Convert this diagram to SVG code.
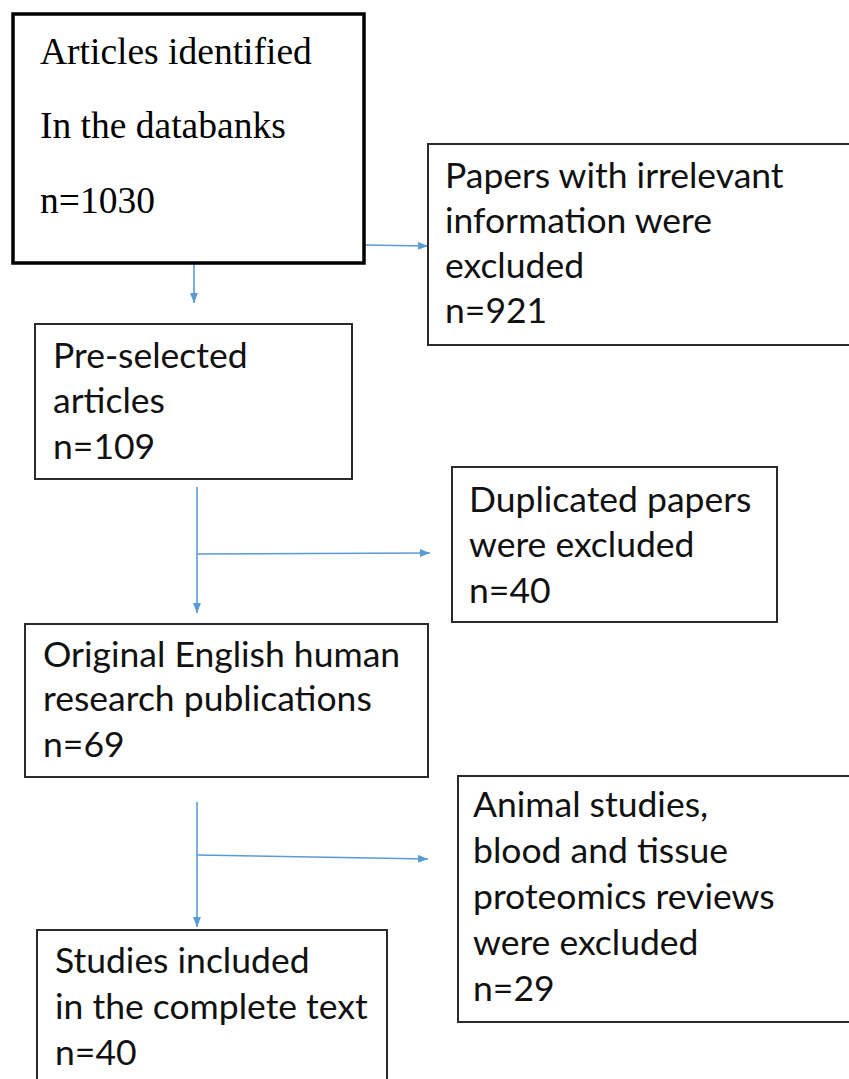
<svg xmlns="http://www.w3.org/2000/svg" width="849" height="1079" viewBox="0 0 849 1079">
<defs>
<marker id="ah" markerWidth="10" markerHeight="8" refX="10" refY="4" orient="auto" markerUnits="userSpaceOnUse">
<path d="M0,0 L10,4 L0,8 Z" fill="#5B9BD5"/>
</marker>
<style>
.box{fill:#fff;stroke:#2b2b2b;stroke-width:2}
.box1{fill:#fff;stroke:#000;stroke-width:3.5}
.serif{font-family:"Liberation Serif","Times New Roman",serif;font-size:37.5px;fill:#000}
.sans{font-family:Lato,"Open Sans",sans-serif;font-size:35.5px;fill:#111}
.conn{fill:none;stroke:#5B9BD5;stroke-width:1.6}
</style>
</defs>
<rect width="849" height="1079" fill="#fff"/>
<g id="connectors">
<path class="conn" d="M364,245 L428,246" marker-end="url(#ah)"/>
<path class="conn" d="M194,264 L194,303" marker-end="url(#ah)"/>
<path class="conn" d="M197,487 L197,613" marker-end="url(#ah)"/>
<path class="conn" d="M197,554 L430,553" marker-end="url(#ah)"/>
<path class="conn" d="M197,802 L197,927" marker-end="url(#ah)"/>
<path class="conn" d="M197,855 L428,859" marker-end="url(#ah)"/>
</g>
<g id="n1">
<rect class="box1" x="13" y="14" width="351" height="249"/>
<text class="serif" x="40" y="64">Articles identified</text>
<text class="serif" x="40" y="138">In the databanks</text>
<text class="serif" x="40" y="213">n=1030</text>
</g>
<g id="n2">
<rect class="box" x="428" y="144" width="425" height="201"/>
<text class="sans" x="445" y="188">Papers with irrelevant</text>
<text class="sans" x="445" y="233">information were</text>
<text class="sans" x="445" y="278">excluded</text>
<text class="sans" x="445" y="323">n=921</text>
</g>
<g id="n3">
<rect class="box" x="35" y="324" width="317" height="155"/>
<text class="sans" x="53" y="368">Pre-selected</text>
<text class="sans" x="53" y="413">articles</text>
<text class="sans" x="53" y="459">n=109</text>
</g>
<g id="n4">
<rect class="box" x="452" y="467" width="325" height="155"/>
<text class="sans" x="469" y="512">Duplicated papers</text>
<text class="sans" x="469" y="557">were excluded</text>
<text class="sans" x="469" y="603">n=40</text>
</g>
<g id="n5">
<rect class="box" x="25" y="624" width="403" height="153"/>
<text class="sans" x="43" y="667">Original English human</text>
<text class="sans" x="43" y="711">research publications</text>
<text class="sans" x="43" y="757">n=69</text>
</g>
<g id="n6">
<rect class="box" x="458" y="776" width="395" height="246"/>
<text class="sans" x="473" y="817">Animal studies,</text>
<text class="sans" x="473" y="863">blood and tissue</text>
<text class="sans" x="473" y="909">proteomics reviews</text>
<text class="sans" x="473" y="955">were excluded</text>
<text class="sans" x="473" y="1001">n=29</text>
</g>
<g id="n7">
<rect class="box" x="37" y="930" width="350" height="160"/>
<text class="sans" x="55" y="973">Studies included</text>
<text class="sans" x="55" y="1019">in the complete text</text>
<text class="sans" x="55" y="1065">n=40</text>
</g>
</svg>
